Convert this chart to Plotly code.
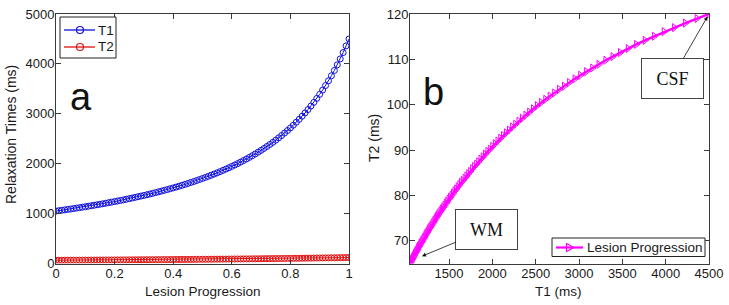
import plotly.graph_objects as go

# ---- data ----
progression = [
    0.00, 0.01, 0.02, 0.03, 0.04, 0.05, 0.06, 0.07, 0.08, 0.09,
    0.10, 0.11, 0.12, 0.13, 0.14, 0.15, 0.16, 0.17, 0.18, 0.19,
    0.20, 0.21, 0.22, 0.23, 0.24, 0.25, 0.26, 0.27, 0.28, 0.29,
    0.30, 0.31, 0.32, 0.33, 0.34, 0.35, 0.36, 0.37, 0.38, 0.39,
    0.40, 0.41, 0.42, 0.43, 0.44, 0.45, 0.46, 0.47, 0.48, 0.49,
    0.50, 0.51, 0.52, 0.53, 0.54, 0.55, 0.56, 0.57, 0.58, 0.59,
    0.60, 0.61, 0.62, 0.63, 0.64, 0.65, 0.66, 0.67, 0.68, 0.69,
    0.70, 0.71, 0.72, 0.73, 0.74, 0.75, 0.76, 0.77, 0.78, 0.79,
    0.80, 0.81, 0.82, 0.83, 0.84, 0.85, 0.86, 0.87, 0.88, 0.89,
    0.90, 0.91, 0.92, 0.93, 0.94, 0.95, 0.96, 0.97, 0.98, 0.99,
    1.00,
]
t1_ms = [
    1050, 1059, 1067, 1075, 1084, 1092, 1101, 1110, 1119, 1128,
    1138, 1147, 1157, 1167, 1177, 1187, 1197, 1208, 1219, 1230,
    1241, 1252, 1264, 1275, 1287, 1300, 1312, 1325, 1338, 1351,
    1364, 1378, 1392, 1406, 1421, 1436, 1451, 1467, 1482, 1499,
    1515, 1532, 1549, 1567, 1585, 1604, 1623, 1642, 1662, 1683,
    1704, 1725, 1747, 1770, 1793, 1817, 1841, 1866, 1892, 1918,
    1946, 1974, 2002, 2032, 2063, 2094, 2127, 2160, 2195, 2231,
    2268, 2306, 2345, 2386, 2428, 2472, 2518, 2565, 2614, 2665,
    2717, 2772, 2830, 2889, 2952, 3017, 3085, 3156, 3229, 3308,
    3390, 3476, 3566, 3662, 3762, 3869, 3981, 4100, 4227, 4361,
    4500,
]
t2_ms = [
    65.0, 65.3, 65.6, 65.9, 66.2, 66.5, 66.8, 67.2, 67.5, 67.8,
    68.1, 68.5, 68.8, 69.1, 69.5, 69.8, 70.1, 70.5, 70.8, 71.2,
    71.6, 71.9, 72.3, 72.7, 73.0, 73.4, 73.8, 74.2, 74.6, 75.0,
    75.4, 75.8, 76.2, 76.6, 77.0, 77.4, 77.8, 78.3, 78.7, 79.2,
    79.6, 80.0, 80.5, 81.0, 81.4, 81.9, 82.4, 82.9, 83.3, 83.8,
    84.3, 84.8, 85.3, 85.9, 86.4, 86.9, 87.4, 88.0, 88.5, 89.1,
    89.7, 90.2, 90.8, 91.4, 92.0, 92.6, 93.2, 93.8, 94.4, 95.1,
    95.7, 96.4, 97.0, 97.7, 98.4, 99.1, 99.8, 100.5, 101.2, 101.9,
    102.6, 103.4, 104.1, 104.9, 105.7, 106.5, 107.3, 108.1, 108.9, 109.8,
    110.6, 111.5, 112.4, 113.3, 114.2, 115.1, 116.1, 117.0, 118.0, 119.0,
    120.0,
]
left_xticks = [0, 0.2, 0.4, 0.6, 0.8, 1]
left_xticklabels = ["0", "0.2", "0.4", "0.6", "0.8", "1"]
left_yticks = [0, 1000, 2000, 3000, 4000, 5000]
right_xticks = [1500, 2000, 2500, 3000, 3500, 4000, 4500]
right_yticks = [70, 80, 90, 100, 110, 120]
series_names = ["T1", "T2", "Lesion Progression"]
series_colors = ["#1010e0", "#e01010", "#ff00ff"]

W, H = 729, 305
FONT = "Liberation Sans, Arial, Helvetica, sans-serif"
SERIF = "Liberation Serif, Times New Roman, serif"
AX = "#3a3a3a"
TXT = "#1a1a1a"

def px(v):
    return v / W

def py(v):
    return 1 - v / H

fig = go.Figure()

fig.add_trace(go.Scatter(
    x=progression, y=t1_ms, name=series_names[0], mode="lines+markers",
    line=dict(color=series_colors[0], width=1),
    marker=dict(symbol="circle-open", size=6, color=series_colors[0], line=dict(width=1)),
    xaxis="x", yaxis="y",
))
fig.add_trace(go.Scatter(
    x=progression, y=t2_ms, name=series_names[1], mode="lines+markers",
    line=dict(color=series_colors[1], width=1),
    marker=dict(symbol="circle-open", size=6, color=series_colors[1], line=dict(width=1)),
    xaxis="x", yaxis="y",
))
fig.add_trace(go.Scatter(
    x=t1_ms, y=t2_ms, name=series_names[2], mode="lines+markers",
    line=dict(color=series_colors[2], width=2.4),
    marker=dict(symbol="triangle-right-open", size=7, color=series_colors[2], line=dict(width=1)),
    xaxis="x2", yaxis="y2",
))

axis_common = dict(
    showline=True, linecolor=AX, linewidth=1, mirror="ticks",
    ticks="inside", ticklen=5, tickcolor=AX, showgrid=False, zeroline=False,
    automargin=False,
    tickfont=dict(family=FONT, size=13, color=TXT),
)
ydom = [py(263.5), py(14)]

fig.update_layout(
    template="none",
    width=W, height=H, margin=dict(l=0, r=0, t=0, b=0, autoexpand=False),
    paper_bgcolor="white", plot_bgcolor="white",
    showlegend=False,
    xaxis=dict(domain=[px(56), px(349)], range=[0, 1], anchor="y",
               tickvals=left_xticks, ticktext=left_xticklabels,
               ticklabelstandoff=-2, **axis_common),
    yaxis=dict(domain=ydom, range=[0, 5000], anchor="x",
               tickvals=left_yticks, ticklabelstandoff=-2, **axis_common),
    xaxis2=dict(domain=[px(410), px(709)], range=[1050, 4500], anchor="y2",
                tickvals=right_xticks, ticklabelstandoff=-2, **axis_common),
    yaxis2=dict(domain=ydom, range=[65, 120], anchor="x2",
                tickvals=right_yticks, ticklabelstandoff=-2, **axis_common),
)

# axis titles
titles = [
    ("Lesion Progression", 202.5, 291, 0, 13.5),
    ("Relaxation Times (ms)", 11, 135, -90, 14),
    ("T1 (ms)", 558, 291, 0, 13.5),
    ("T2 (ms)", 374, 138, -90, 14),
]
for txt, xx, yy, ang, fs in titles:
    fig.add_annotation(text=txt, xref="paper", yref="paper", x=px(xx), y=py(yy),
                       xanchor="center", yanchor="middle", textangle=ang,
                       showarrow=False, font=dict(family=FONT, size=fs, color=TXT))

# ---- MATLAB-style legends (box, sample line, marker, label) ----
def rect(x0, y0, x1, y1, **kw):
    fig.add_shape(type="rect", xref="paper", yref="paper",
                  x0=px(x0), x1=px(x1), y0=py(y1), y1=py(y0), **kw)

def seg(x0, y0, x1, y1, color, width):
    fig.add_shape(type="line", xref="paper", yref="paper",
                  x0=px(x0), x1=px(x1), y0=py(y0), y1=py(y1),
                  line=dict(color=color, width=width))

def label(txt, x, y, size=13.5):
    fig.add_annotation(text=txt, xref="paper", yref="paper", x=px(x), y=py(y),
                       xanchor="left", yanchor="middle", showarrow=False,
                       font=dict(family=FONT, size=size, color=TXT))

# left legend
rect(60, 17, 116, 58, line=dict(color="#222", width=1), fillcolor="white", layer="above")
for i, yy in enumerate([30, 47]):
    seg(64, yy, 95, yy, series_colors[i], 1.3)
    fig.add_shape(type="circle", xref="paper", yref="paper",
                  x0=px(76.5), x1=px(83.5), y0=py(yy + 3.5), y1=py(yy - 3.5),
                  line=dict(color=series_colors[i], width=1.2))
    label(series_names[i], 96, yy)

# right legend
rect(552, 238, 705, 256.5, line=dict(color="#222", width=1), fillcolor="white", layer="above")
seg(556, 247.5, 583, 247.5, series_colors[2], 2.2)
tx, ty = 570, 247.5
fig.add_shape(type="path", xref="paper", yref="paper",
              path=f"M {px(tx-3.5)},{py(ty-4)} L {px(tx+4)},{py(ty)} L {px(tx-3.5)},{py(ty+4)} Z",
              line=dict(color=series_colors[2], width=1.2))
label(series_names[2], 585, 247.5)

# panel letters
fig.add_annotation(text="a", xref="paper", yref="paper", x=px(68), y=py(74),
                   showarrow=False, font=dict(family=FONT, size=38, color="#111"))
fig.add_annotation(text="b", xref="paper", yref="paper", x=px(433), y=py(69),
                   showarrow=False, font=dict(family=FONT, size=38, color="#111"))

fig.add_annotation(text="CSF", x=4500, y=120, xref="x2", yref="y2",
                   ax=-37, ay=64, axref="pixel", ayref="pixel",
                   showarrow=True, arrowhead=2, arrowsize=1, arrowwidth=0.8,
                   arrowcolor="#111", standoff=3,
                   font=dict(family=SERIF, size=18, color="#111"),
                   bordercolor="#444", borderwidth=1, borderpad=0,
                   width=61, height=39, bgcolor="white")
fig.add_annotation(text="WM", x=1188, y=66.6, xref="x2", yref="y2",
                   ax=65, ay=-27, axref="pixel", ayref="pixel",
                   showarrow=True, arrowhead=2, arrowsize=1, arrowwidth=0.8,
                   arrowcolor="#111", standoff=0,
                   font=dict(family=SERIF, size=18, color="#111"),
                   bordercolor="#444", borderwidth=1, borderpad=0,
                   width=61, height=39, bgcolor="white")

fig.write_html("out.html", config={"displayModeBar": False},
               post_script="document.body.style.margin='0px';")
